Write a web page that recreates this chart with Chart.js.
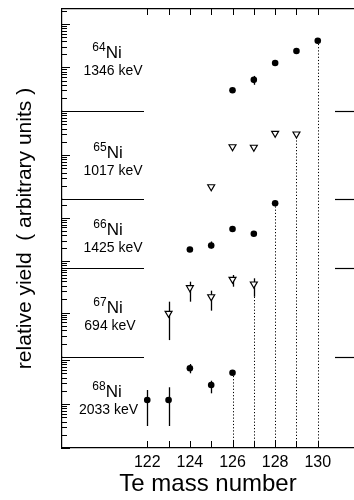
<!DOCTYPE html>
<html><head><meta charset="utf-8">
<script src="https://cdn.jsdelivr.net/npm/chart.js@4/dist/chart.umd.min.js"></script>
<style>html,body{margin:0;padding:0;background:#fff;overflow:hidden}#wrap{width:354px;height:500px;position:relative}</style>
</head><body><div id="wrap"><canvas id="c" width="354" height="500"></canvas></div>
<script>
// ---------- data ----------
const massTicks = [122, 123, 124, 125, 126, 127, 128, 129, 130];
const massLabels = [122, 124, 126, 128, 130];
const isotopeMass = ['64', '65', '66', '67', '68'];
const gammaEnergy = ['1346 keV', '1017 keV', '1425 keV', '694 keV', '2033 keV'];

const ni64Mass  = [126, 127, 128, 129, 130];
const ni64Yield = [3.0, 5.2, 12.7, 23.9, 41.3];
const ni64Low   = [null, 4.0, null, null, null];
const ni64High  = [null, 6.4, null, null, null];

const ni65Mass  = [125, 126, 127, 128, 129];
const ni65Yield = [1.9, 15.4, 15.0, 31.1, 30.0];
const ni65Low   = [null, null, null, null, null];
const ni65High  = [null, null, null, null, null];

const ni66Mass  = [124, 125, 126, 127, 128];
const ni66Yield = [1.87, 2.31, 5.5, 4.3, 21.6];
const ni66Low   = [null, 1.97, null, null, null];
const ni66High  = [null, 2.85, null, null, null];

const ni67Mass  = [123, 124, 125, 126, 127];
const ni67Yield = [9.6, 36.1, 22.6, 55.7, 43.7];
const ni67Low   = [2.4, 17.5, 11.0, 38.0, 22.6];
const ni67High  = [17.5, 49.2, 30.9, 69.6, 58.7];

const ni68Mass  = [122, 123, 124, 125, 126];
const ni68Yield = [12.3, 12.3, 64.7, 27.0, 51.4];
const ni68Low   = [3.16, 3.16, 49.9, 17.5, null];
const ni68High  = [20.8, 24.0, 81.1, 33.8, null];

const axisMin = [1, 1, 0.73, 1, 1];
const axisMax = [221, 100, 27, 100, 117];

// ---------- build ----------
const FONT = "'Liberation Sans', Arial, Helvetica, sans-serif";
const masses = [ni64Mass, ni65Mass, ni66Mass, ni67Mass, ni68Mass];
const yields = [ni64Yield, ni65Yield, ni66Yield, ni67Yield, ni68Yield];
const lows   = [ni64Low, ni65Low, ni66Low, ni67Low, ni68Low];
const highs  = [ni64High, ni65High, ni66High, ni67High, ni68High];
const openTri = [false, true, false, true, false];
const stackWeights = [102, 88, 69, 89, 91];
const labelBase = [49, 47, 36, 45, 40];
const labelCx = [107, 108, 108, 108, 107];
const kevCx = [113, 113, 113, 110, 108.5];

const datasets = masses.map((m, k) => ({
  label: isotopeMass[k] + 'Ni',
  data: m.map((x, i) => ({x: x, y: yields[k][i]})),
  yAxisID: 'y' + (k + 1),
  showLine: false,
  pointStyle: openTri[k] ? 'triangle' : 'circle',
  rotation: openTri[k] ? 180 : 0,
  pointRadius: openTri[k] ? 4 : 3.3,
  backgroundColor: openTri[k] ? '#fff' : '#000',
  borderColor: '#000',
  borderWidth: openTri[k] ? 1.2 : 0,
  clip: false
}));

const noGrid = {display: false, drawTicks: false, tickLength: 0};
const scales = {
  x: {
    type: 'linear', position: 'bottom', min: 118, max: 131.7,
    afterBuildTicks: s => { s.ticks = massTicks.map(v => ({value: v})); },
    afterFit: s => { s.paddingLeft = 0; s.paddingRight = 0; s.height = 52; },
    ticks: {
      autoSkip: false, maxRotation: 0, padding: 7, color: '#000',
      font: {family: FONT, size: 16, lineHeight: 1.0},
      callback: v => massLabels.includes(v) ? String(v) : ''
    },
    grid: noGrid,
    border: {display: true, color: '#000', width: 1.2},
    title: {display: true, text: 'Te mass number', color: '#000',
      font: {family: FONT, size: 24, lineHeight: 1.1}, padding: {top: 0, bottom: 2}}
  },
  x2: {
    type: 'linear', position: 'top', min: 118, max: 131.7,
    afterFit: s => { s.paddingLeft = 0; s.paddingRight = 0; s.height = 0; },
    ticks: {display: false, padding: 0}, grid: noGrid,
    border: {display: true, color: '#000', width: 1.2}
  }
};
for (let k = 0; k < 5; k++) {
  scales['y' + (k + 1)] = {
    type: 'logarithmic', position: 'left', stack: 'ni', stackWeight: stackWeights[k],
    weight: 5 - k, min: axisMin[k], max: axisMax[k], offset: false,
    afterFit: s => { s.width = 0; s.paddingTop = 0; s.paddingBottom = 0; },
    ticks: {display: false, padding: 0}, grid: noGrid,
    border: {display: true, color: '#000', width: 1.2}
  };
}

const deco = {
  id: 'deco',
  beforeDatasetsDraw(chart) {
    const ctx = chart.ctx, ca = chart.chartArea;
    ctx.save();
    ctx.strokeStyle = '#000';
    ctx.lineWidth = 1; ctx.setLineDash([1.2, 2]);
    chart.data.datasets.forEach((ds, i) => {
      const meta = chart.getDatasetMeta(i);
      const el = meta.data[meta.data.length - 1];
      const x = Math.round(el.x) + 0.5;
      ctx.beginPath(); ctx.moveTo(x, el.y); ctx.lineTo(x, ca.bottom); ctx.stroke();
    });
    ctx.setLineDash([]);
    ctx.lineWidth = 1.3;
    chart.data.datasets.forEach((ds, k) => {
      const meta = chart.getDatasetMeta(k);
      const ys = chart.scales['y' + (k + 1)];
      meta.data.forEach((el, i) => {
        if (lows[k][i] == null) return;
        const x = Math.round(el.x) + 0.5;
        ctx.beginPath();
        ctx.moveTo(x, ys.getPixelForValue(lows[k][i]));
        ctx.lineTo(x, ys.getPixelForValue(highs[k][i]));
        ctx.stroke();
      });
    });
    ctx.restore();
  },
  afterDraw(chart) {
    const ctx = chart.ctx, ca = chart.chartArea;
    const xs = chart.scales.x;
    ctx.save();
    ctx.strokeStyle = '#000'; ctx.fillStyle = '#000';
    ctx.lineWidth = 1;
    for (let k = 0; k < 5; k++) {
      const ys = chart.scales['y' + (k + 1)];
      const lo = Math.floor(Math.log10(ys.min)), hi = Math.ceil(Math.log10(ys.max));
      for (let n = lo; n <= hi; n++) {
        for (let m = 1; m <= 9; m++) {
          const v = m * Math.pow(10, n);
          if (v < ys.min * 0.999 || v > ys.max * 1.001) continue;
          const p = Math.round(ys.getPixelForValue(v)) + 0.5;
          ctx.beginPath(); ctx.moveTo(ca.left, p); ctx.lineTo(ca.left + (m === 1 ? 8 : 5), p); ctx.stroke();
        }
      }
    }
    massTicks.forEach(v => {
      const p = Math.round(xs.getPixelForValue(v)) + 0.5;
      ctx.beginPath(); ctx.moveTo(p, ca.bottom); ctx.lineTo(p, ca.bottom - 7); ctx.stroke();
      ctx.beginPath(); ctx.moveTo(p, ca.top); ctx.lineTo(p, ca.top + 6); ctx.stroke();
    });
    ctx.lineWidth = 1.2;
    for (let k = 0; k < 4; k++) {
      const yb = Math.round(chart.scales['y' + (k + 1)].bottom) + 0.5;
      ctx.beginPath(); ctx.moveTo(ca.left, yb); ctx.lineTo(ca.left + 82, yb); ctx.stroke();
      ctx.beginPath(); ctx.moveTo(ca.right - 19, yb); ctx.lineTo(ca.right, yb); ctx.stroke();
    }
    for (let k = 0; k < 5; k++) {
      const top = chart.scales['y' + (k + 1)].top;
      const base = top + labelBase[k];
      ctx.font = '12px ' + FONT;
      const w1 = ctx.measureText(isotopeMass[k]).width;
      ctx.font = '17px ' + FONT;
      const w2 = ctx.measureText('Ni').width;
      const x0 = labelCx[k] - (w1 + w2) / 2;
      ctx.textAlign = 'left'; ctx.textBaseline = 'alphabetic';
      ctx.font = '12px ' + FONT;
      ctx.fillText(isotopeMass[k], x0, base - 7);
      ctx.font = '17px ' + FONT;
      ctx.fillText('Ni', x0 + w1, base);
      ctx.font = '14px ' + FONT;
      ctx.textAlign = 'center';
      ctx.fillText(gammaEnergy[k], kevCx[k], base + 17);
    }
    ctx.translate(25, (ca.top + ca.bottom) / 2);
    ctx.rotate(-Math.PI / 2);
    ctx.textAlign = 'center'; ctx.textBaseline = 'middle';
    ctx.font = '21px ' + FONT;
    ctx.fillText('relative yield  ( arbitrary units )', 0, 0);
    ctx.restore();
  }
};

new Chart(document.getElementById('c'), {
  type: 'scatter',
  data: {datasets: datasets},
  options: {
    responsive: false, animation: false,
    layout: {autoPadding: false, padding: {top: 9, left: 62, right: 0, bottom: 0}},
    plugins: {legend: {display: false}, tooltip: {enabled: false}},
    scales: scales
  },
  plugins: [deco]
});
</script></body></html>
